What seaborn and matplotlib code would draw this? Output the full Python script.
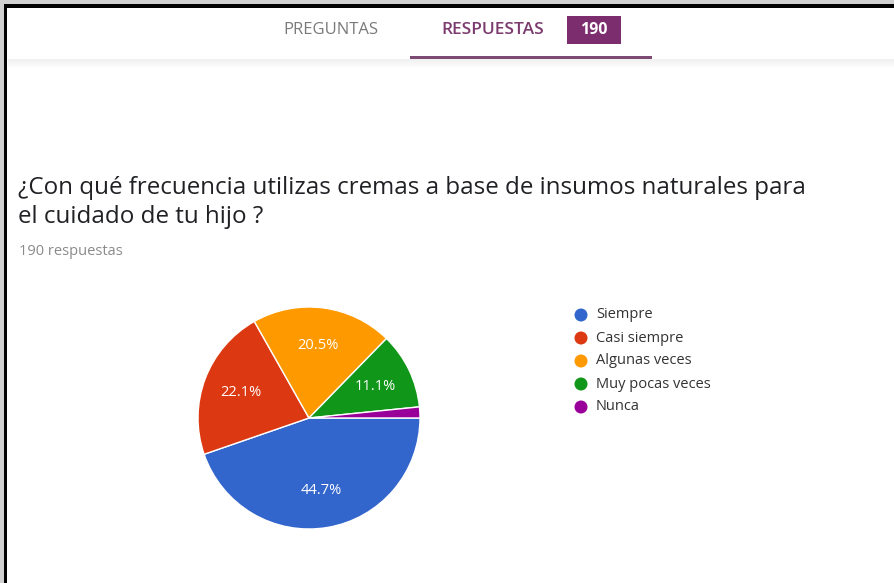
import matplotlib
matplotlib.use("Agg")
import matplotlib.pyplot as plt
from matplotlib.patches import Rectangle, Circle
import numpy as np
import seaborn as sns

# --- data ---
categories = ["Siempre", "Casi siempre", "Algunas veces", "Muy pocas veces", "Nunca"]
percentages = [44.7, 22.1, 20.5, 11.1, 1.6]
colors = ["#3366cc", "#dc3912", "#ff9900", "#109618", "#990099"]
title_lines = [
    "¿Con qué frecuencia utilizas cremas a base de insumos naturales para",
    "el cuidado de tu hijo ?",
]
subtitle = "190 respuestas"
tabs = ["PREGUNTAS", "RESPUESTAS"]
response_count = "190"

sns.set_theme(style="white")
plt.rcParams["font.family"] = ["Open Sans", "DejaVu Sans"]

W, H = 895, 583
fig = plt.figure(figsize=(W / 100, H / 100), dpi=100, facecolor="white")

# overlay axes in pixel coordinates (y downward)
bg = fig.add_axes([0, 0, 1, 1])
bg.set_xlim(0, W)
bg.set_ylim(H, 0)
bg.axis("off")

# outer frame (top and left edges)
bg.add_patch(Rectangle((0, 0), W, 4, color="#d0d0d0", lw=0))
bg.add_patch(Rectangle((0, 0), 4, H, color="#d0d0d0", lw=0))
bg.add_patch(Rectangle((4, 4), W, 4, color="black", lw=0))
bg.add_patch(Rectangle((4, 4), 3.5, H, color="black", lw=0))

# header shadow
for i, a in enumerate(np.linspace(0.10, 0.0, 10)):
    bg.add_patch(Rectangle((8, 59 + i), W, 1, color="black", alpha=a * 0.6, lw=0))

# tabs
bg.text(331, 29.5, tabs[0], ha="center", va="center", fontsize=12,
        color="#7a7a7a")
bg.text(493, 29.5, tabs[1], ha="center", va="center", fontsize=12.5,
        color="#7b3b6f", fontweight="semibold")
bg.add_patch(Rectangle((567, 16), 54, 28, color="#7b2d6d", lw=0))
bg.text(594, 30, response_count, ha="center", va="center", fontsize=11.5,
        color="white", fontweight="bold")
bg.add_patch(Rectangle((410, 56), 242, 3, color="#7d4a74", lw=0))

# question title and response count
bg.text(18, 194, title_lines[0], ha="left", va="baseline", fontsize=17.4,
        color="#202124")
bg.text(18, 223, title_lines[1], ha="left", va="baseline", fontsize=17.4,
        color="#202124")
bg.text(19, 255, subtitle, ha="left", va="baseline", fontsize=10.5,
        color="#8a8a8a")

# legend
for i, (cat, col) in enumerate(zip(categories, colors)):
    y = 315 + 23 * i
    bg.add_patch(Circle((581, y), 6.5, color=col, lw=0))
    bg.text(596, y, cat, ha="left", va="center", fontsize=10.5, color="#333333")

# pie chart
cx, cy, r = 309, 418, 111
pie_ax = fig.add_axes([(cx - r) / W, (H - cy - r) / H, 2 * r / W, 2 * r / H])
pie_ax.set_aspect("equal")
pie_ax.axis("off")

def label_fmt(p):
    return f"{p:.1f}%" if p >= 5 else ""

wedges, _, autotexts = pie_ax.pie(
    percentages, colors=colors, startangle=0, counterclock=False,
    radius=1, autopct=label_fmt, pctdistance=0.66,
    wedgeprops=dict(edgecolor="white", linewidth=1),
    textprops=dict(color="white", fontsize=10.5, fontweight="medium"),
)
pie_ax.set_xlim(-1, 1)
pie_ax.set_ylim(-1, 1)

fig.savefig("out.png", dpi=100, facecolor="white")
